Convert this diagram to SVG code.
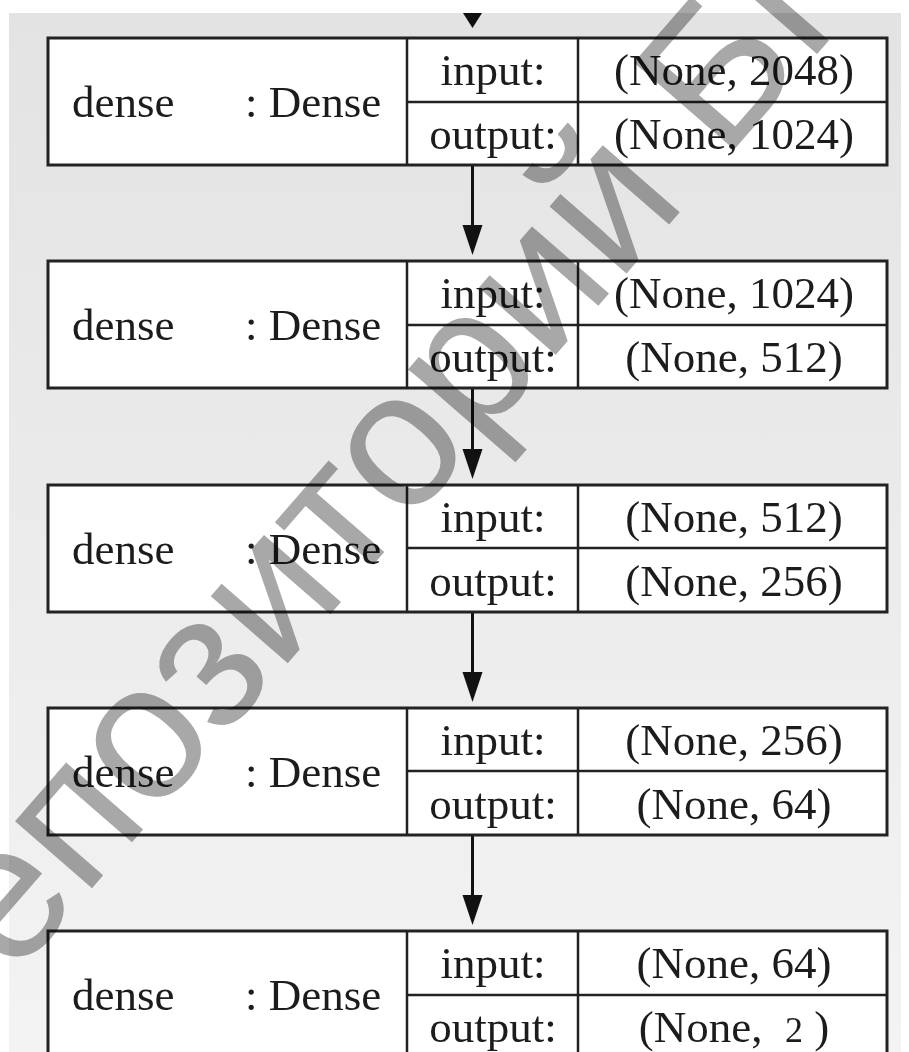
<svg xmlns="http://www.w3.org/2000/svg" width="909" height="1052" viewBox="0 0 909 1052">
<defs>
<linearGradient id="bg" x1="0" y1="0" x2="0" y2="1">
<stop offset="0" stop-color="#e3e3e3"/>
<stop offset="1" stop-color="#f3f3f3"/>
</linearGradient>
<style>
.box{fill:#fff;stroke:#222;stroke-width:3}
.ln{stroke:#222;stroke-width:2.5;fill:none}
.t{font-family:"Liberation Serif","Times New Roman",serif;font-size:45px;fill:#1c1c1c}
.m{text-anchor:middle}
.conn{stroke:#111;stroke-width:3;fill:none}
.head{fill:#111}
.wm{font-family:"Liberation Sans",Arial,sans-serif;font-size:193px;fill:#a8a8a8;mix-blend-mode:multiply}
</style>
</defs>
<rect x="0" y="0" width="909" height="1052" fill="#ffffff"/>
<rect x="9" y="13" width="892" height="1039" fill="url(#bg)"/>

<g id="connectors">
<path class="head" d="M463,13 L482,13 L472.5,28 Z"/>
<line class="conn" x1="472.5" y1="165" x2="472.5" y2="226"/>
<path class="head" d="M462.5,225 L482.5,225 L472.5,255 Z"/>
<line class="conn" x1="472.5" y1="388" x2="472.5" y2="450"/>
<path class="head" d="M462.5,449 L482.5,449 L472.5,479 Z"/>
<line class="conn" x1="472.5" y1="612" x2="472.5" y2="673"/>
<path class="head" d="M462.5,672 L482.5,672 L472.5,702 Z"/>
<line class="conn" x1="472.5" y1="835" x2="472.5" y2="896"/>
<path class="head" d="M462.5,895 L482.5,895 L472.5,925 Z"/>
</g>

<g id="node1">
<rect class="box" x="48" y="38" width="839" height="127"/>
<line class="ln" x1="407" y1="38" x2="407" y2="165"/>
<line class="ln" x1="578" y1="38" x2="578" y2="165"/>
<line class="ln" x1="407" y1="102" x2="887" y2="102"/>
<text class="t" x="72" y="117">dense</text>
<text class="t" x="245" y="117">: Dense</text>
<text class="t m" x="493" y="85">input:</text>
<text class="t m" x="493" y="149">output:</text>
<text class="t m" x="734" y="85">(None, 2048)</text>
<text class="t m" x="734" y="149">(None, 1024)</text>
</g>

<g id="node2">
<rect class="box" x="48" y="261" width="839" height="127"/>
<line class="ln" x1="407" y1="261" x2="407" y2="388"/>
<line class="ln" x1="578" y1="261" x2="578" y2="388"/>
<line class="ln" x1="407" y1="325" x2="887" y2="325"/>
<text class="t" x="72" y="340">dense</text>
<text class="t" x="245" y="340">: Dense</text>
<text class="t m" x="493" y="308">input:</text>
<text class="t m" x="493" y="372">output:</text>
<text class="t m" x="734" y="308">(None, 1024)</text>
<text class="t m" x="734" y="372">(None, 512)</text>
</g>

<g id="node3">
<rect class="box" x="48" y="485" width="839" height="127"/>
<line class="ln" x1="407" y1="485" x2="407" y2="612"/>
<line class="ln" x1="578" y1="485" x2="578" y2="612"/>
<line class="ln" x1="407" y1="548" x2="887" y2="548"/>
<text class="t" x="72" y="564">dense</text>
<text class="t" x="245" y="564">: Dense</text>
<text class="t m" x="493" y="532">input:</text>
<text class="t m" x="493" y="596">output:</text>
<text class="t m" x="734" y="532">(None, 512)</text>
<text class="t m" x="734" y="596">(None, 256)</text>
</g>

<g id="node4">
<rect class="box" x="48" y="708" width="839" height="127"/>
<line class="ln" x1="407" y1="708" x2="407" y2="835"/>
<line class="ln" x1="578" y1="708" x2="578" y2="835"/>
<line class="ln" x1="407" y1="771" x2="887" y2="771"/>
<text class="t" x="72" y="787">dense</text>
<text class="t" x="245" y="787">: Dense</text>
<text class="t m" x="493" y="755">input:</text>
<text class="t m" x="493" y="819">output:</text>
<text class="t m" x="734" y="755">(None, 256)</text>
<text class="t m" x="734" y="819">(None, 64)</text>
</g>

<g id="node5">
<rect class="box" x="48" y="931" width="839" height="127"/>
<line class="ln" x1="407" y1="931" x2="407" y2="1058"/>
<line class="ln" x1="578" y1="931" x2="578" y2="1058"/>
<line class="ln" x1="407" y1="995" x2="887" y2="995"/>
<text class="t" x="72" y="1010">dense</text>
<text class="t" x="245" y="1010">: Dense</text>
<text class="t m" x="493" y="978">input:</text>
<text class="t m" x="493" y="1042">output:</text>
<text class="t m" x="734" y="978">(None, 64)</text>
<text class="t m" x="734" y="1042" xml:space="preserve">(None,  <tspan font-size="36">2</tspan> )</text>
</g>

<g id="watermark">
<text class="wm" transform="translate(-66,1070) rotate(-49)">Репозиторий БГУИР</text>
</g>
</svg>
